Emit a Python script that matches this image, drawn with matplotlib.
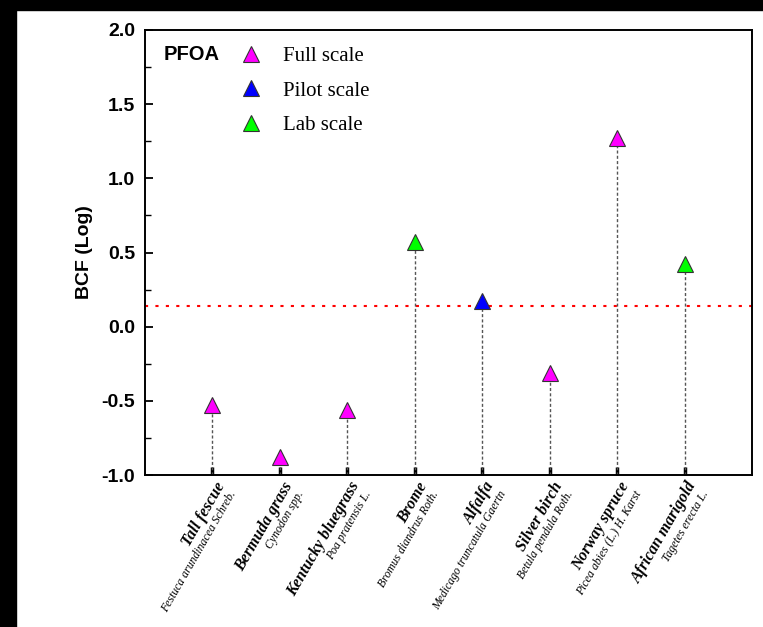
import numpy as np
import matplotlib
matplotlib.use("Agg")
import matplotlib.pyplot as plt
from matplotlib.lines import Line2D
from matplotlib.patches import Rectangle

# datos
plants = ["Tall fescue", "Bermuda grass", "Kentucky bluegrass", "Brome",
          "Alfalfa", "Silver birch", "Norway spruce", "African marigold"]
sci_names = ["Festuca arundinacea Schreb.", "Cynodon spp.", "Poa pratensis L.",
             "Bromus diandrus Roth.", "Medicago truncatula Gaertn",
             "Betula pendula Roth.", "Picea abies (L.) H. Karst", "Tagetes erecta L."]
bcf_log = [-0.53, -0.88, -0.56, 0.57, 0.17, -0.31, 1.27, 0.42]
scale = ["Full", "Full", "Full", "Lab", "Pilot", "Full", "Full", "Lab"]
scale_names = ["Full", "Pilot", "Lab"]
scale_labels = ["Full scale", "Pilot scale", "Lab scale"]
scale_colors = ["#FF00FF", "#0000FF", "#00FF00"]
threshold = 0.14

sans = "Liberation Sans"
serif = "Liberation Serif"

fig = plt.figure(figsize=(7.63, 6.27), dpi=100)
# bandas negras de la captura original
fig.patches.append(Rectangle((0, 0), 16 / 763, 1, transform=fig.transFigure, color="black", zorder=0))
fig.patches.append(Rectangle((0, 1 - 10 / 627), 1, 10 / 627, transform=fig.transFigure, color="black", zorder=0))

ax = fig.add_axes([145 / 763, 1 - 475 / 627, 607 / 763, 445 / 627])
x = np.arange(1, len(plants) + 1)
ymin = -1.0

# lineas verticales punteadas
ax.vlines(x, ymin, bcf_log, colors="#555555", linestyles=(0, (2.2, 1.6)), linewidth=1.0, zorder=2)
ax.axhline(threshold, color="red", linestyle=(0, (1.5, 3.5)), linewidth=1.5, zorder=1)

bcf = np.array(bcf_log)
sc = np.array(scale)
handles = []
for name, lab, col in zip(scale_names, scale_labels, scale_colors):
    m = sc == name
    ax.plot(x[m], bcf[m], linestyle="none", marker="^", markersize=11,
            markerfacecolor=col, markeredgecolor="#333333", markeredgewidth=0.8, zorder=3)
    handles.append(Line2D([], [], linestyle="none", marker="^", markersize=11,
                          markerfacecolor=col, markeredgecolor="#333333", markeredgewidth=0.8, label=lab))

ax.set_xlim(0, 9)
ax.set_ylim(ymin, 2.0)
ax.set_yticks(np.arange(-1.0, 2.01, 0.5))
ax.set_yticks(np.arange(-0.75, 2.0, 0.5), minor=True)
ax.set_yticklabels([f"{v:.1f}" for v in np.arange(-1.0, 2.01, 0.5)], fontfamily=sans,
                   fontweight="bold", fontsize=14)
ax.tick_params(axis="y", which="major", direction="in", length=6, width=1.3, pad=7)
ax.tick_params(axis="y", which="minor", direction="in", length=4, width=1.0)
ax.set_ylabel("BCF (Log)", fontfamily=sans, fontweight="bold", fontsize=14, labelpad=6)

ax.set_xticks(x)
ax.set_xticklabels([])
ax.tick_params(axis="x", which="major", direction="in", length=6, width=2.5)
for s in ax.spines.values():
    s.set_linewidth(1.4)

# etiquetas rotadas: nombre comun + nombre cientifico
for xi, p, s in zip(x, plants, sci_names):
    ax.annotate(p, xy=(xi, 0), xycoords=("data", "axes fraction"), xytext=(1.5, -3.0),
                textcoords="offset points", rotation=60, ha="right", va="top",
                rotation_mode="anchor", fontfamily=serif, fontweight="bold",
                fontstyle="italic", fontsize=11.5)
    ax.annotate(s, xy=(xi, 0), xycoords=("data", "axes fraction"), xytext=(11.4, -9.9),
                textcoords="offset points", rotation=60, ha="right", va="top",
                rotation_mode="anchor", fontfamily=serif, fontstyle="italic", fontsize=8.5)

ax.text(0.03, 0.945, "PFOA", transform=ax.transAxes, ha="left", va="center",
        fontfamily=sans, fontweight="bold", fontsize=14.5)
leg = ax.legend(handles=handles, loc="upper left", bbox_to_anchor=(0.158, 0.962),
                frameon=False, borderaxespad=0, borderpad=0, handlelength=0.95,
                handletextpad=1.05, labelspacing=0.7, prop={"family": serif, "size": 15})

fig.savefig("out.png", dpi=100, facecolor="white")
